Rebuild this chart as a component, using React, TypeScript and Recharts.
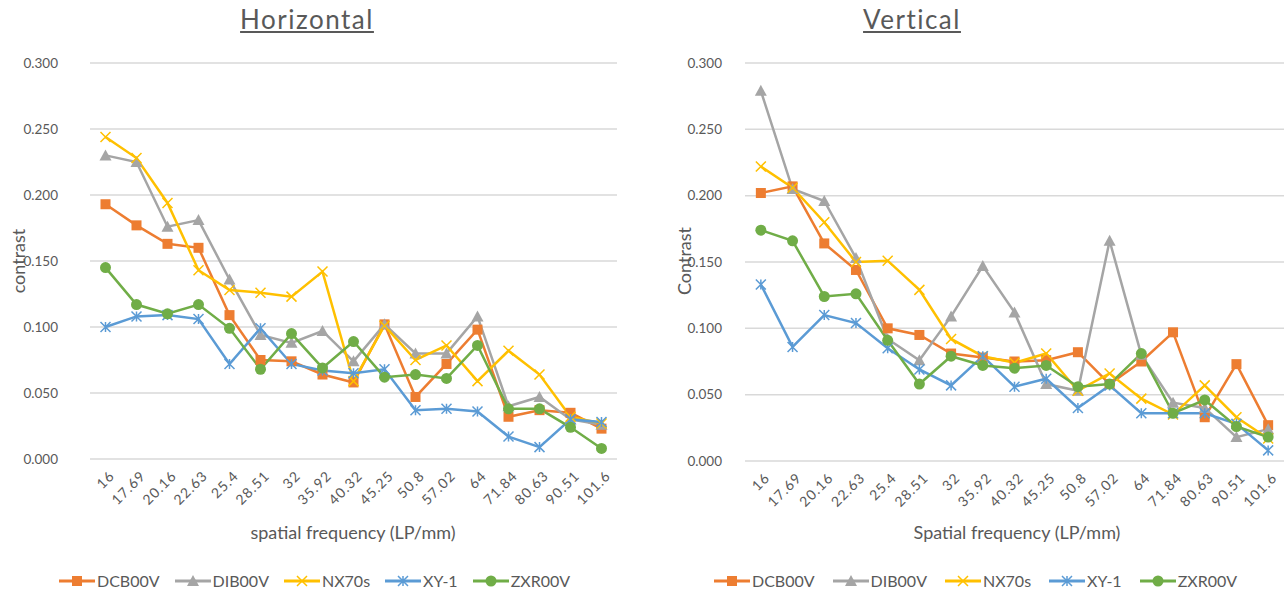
import { LineChart, Line, XAxis, YAxis, CartesianGrid } from 'recharts'

// spatial frequency categories (LP/mm)
const freqs = ['16', '17.69', '20.16', '22.63', '25.4', '28.51', '32', '35.92', '40.32', '45.25', '50.8', '57.02', '64', '71.84', '80.63', '90.51', '101.6']
const yTicks = [0, 0.05, 0.1, 0.15, 0.2, 0.25, 0.3]

// Horizontal
const hDCB00V = [0.193, 0.177, 0.163, 0.160, 0.109, 0.075, 0.074, 0.064, 0.058, 0.102, 0.047, 0.072, 0.098, 0.032, 0.037, 0.035, 0.023]
const hDIB00V = [0.230, 0.225, 0.176, 0.181, 0.136, 0.094, 0.088, 0.097, 0.074, 0.102, 0.080, 0.080, 0.108, 0.040, 0.047, 0.030, 0.026]
const hNX70s = [0.244, 0.228, 0.194, 0.143, 0.128, 0.126, 0.123, 0.142, 0.059, 0.101, 0.075, 0.086, 0.059, 0.082, 0.064, 0.032, 0.027]
const hXY1 = [0.100, 0.108, 0.109, 0.106, 0.072, 0.099, 0.072, 0.067, 0.065, 0.068, 0.037, 0.038, 0.036, 0.017, 0.009, 0.030, 0.028]
const hZXR00V = [0.145, 0.117, 0.110, 0.117, 0.099, 0.068, 0.095, 0.069, 0.089, 0.062, 0.064, 0.061, 0.086, 0.038, 0.038, 0.024, 0.008]

// Vertical
const vDCB00V = [0.202, 0.207, 0.164, 0.144, 0.100, 0.095, 0.081, 0.078, 0.075, 0.076, 0.082, 0.058, 0.075, 0.097, 0.033, 0.073, 0.027]
const vDIB00V = [0.279, 0.205, 0.196, 0.153, 0.092, 0.076, 0.109, 0.147, 0.112, 0.058, 0.053, 0.166, 0.080, 0.044, 0.040, 0.018, 0.024]
const vNX70s = [0.222, 0.206, 0.180, 0.150, 0.151, 0.129, 0.092, 0.079, 0.074, 0.081, 0.053, 0.066, 0.047, 0.035, 0.057, 0.033, 0.017]
const vXY1 = [0.133, 0.086, 0.110, 0.104, 0.085, 0.069, 0.057, 0.079, 0.056, 0.062, 0.040, 0.057, 0.036, 0.036, 0.036, 0.028, 0.008]
const vZXR00V = [0.174, 0.166, 0.124, 0.126, 0.091, 0.058, 0.079, 0.072, 0.070, 0.072, 0.056, 0.058, 0.081, 0.036, 0.046, 0.026, 0.018]

const FONT = 'Lato, "Open Sans", sans-serif'
const TEXT = '#595959'
const GRID = '#D9D9D9'

type Marker = 'square' | 'triangle' | 'x' | 'star' | 'circle'

const SERIES: { key: string; color: string; marker: Marker }[] = [
  { key: 'DCB00V', color: '#ED7D31', marker: 'square' },
  { key: 'DIB00V', color: '#A5A5A5', marker: 'triangle' },
  { key: 'NX70s', color: '#FFC000', marker: 'x' },
  { key: 'XY-1', color: '#5B9BD5', marker: 'star' },
  { key: 'ZXR00V', color: '#70AD47', marker: 'circle' },
]

const buildRows = (s: number[][]) =>
  freqs.map((f, i) => ({
    f,
    'DCB00V': s[0][i],
    'DIB00V': s[1][i],
    'NX70s': s[2][i],
    'XY-1': s[3][i],
    'ZXR00V': s[4][i],
  }))

const hRows = buildRows([hDCB00V, hDIB00V, hNX70s, hXY1, hZXR00V])
const vRows = buildRows([vDCB00V, vDIB00V, vNX70s, vXY1, vZXR00V])

function MarkerShape({ cx, cy, color, marker }: { cx: number; cy: number; color: string; marker: Marker }) {
  const r = 5
  if (marker === 'square') return <rect x={cx - r} y={cy - r} width={2 * r} height={2 * r} fill={color} />
  if (marker === 'circle') return <circle cx={cx} cy={cy} r={r + 0.5} fill={color} />
  if (marker === 'triangle') return <path d={`M${cx},${cy - r - 1} L${cx + r + 1},${cy + r} L${cx - r - 1},${cy + r} Z`} fill={color} />
  if (marker === 'x')
    return <path d={`M${cx - r},${cy - r} L${cx + r},${cy + r} M${cx + r},${cy - r} L${cx - r},${cy + r}`} stroke={color} strokeWidth={1.5} />
  return (
    <path
      d={`M${cx - r},${cy - r} L${cx + r},${cy + r} M${cx + r},${cy - r} L${cx - r},${cy + r} M${cx},${cy - r} L${cx},${cy + r}`}
      stroke={color}
      strokeWidth={1.5}
    />
  )
}

const makeDot = (color: string, marker: Marker) => (p: any) => {
  if (p.cx == null || p.cy == null) return <g key={p.key} />
  return <MarkerShape key={p.key} cx={p.cx} cy={p.cy} color={color} marker={marker} />
}

function XTick({ x, y, payload }: any) {
  const tx = x + 6
  const ty = y + 6
  return (
    <text x={tx} y={ty} transform={`rotate(-45 ${tx} ${ty})`} textAnchor="end" dominantBaseline="central" fill={TEXT} fontSize={14} fontFamily={FONT} letterSpacing={1}>
      {payload.value}
    </text>
  )
}

function ChartLegend({ left, gap }: { left: number; gap: number }) {
  return (
    <div style={{ position: 'absolute', left, top: 571, display: 'flex', gap, fontFamily: FONT, fontSize: 16, color: TEXT, whiteSpace: 'nowrap' }}>
      {SERIES.map(s => (
        <div key={s.key} style={{ display: 'flex', alignItems: 'center' }}>
          <svg width={36} height={16}>
            <line x1={0} y1={8} x2={36} y2={8} stroke={s.color} strokeWidth={3} />
            <MarkerShape cx={18} cy={8} color={s.color} marker={s.marker} />
          </svg>
          <span style={{ marginLeft: 2 }}>{s.key}</span>
        </div>
      ))}
    </div>
  )
}

interface PanelProps {
  rows: any[]
  title: string
  yLabel: string
  xLabel: string
  left: number
  width: number
  plotLeft: number
  plotRight: number
  plotBottom: number
  tickEnd: number
  titleX: number
  yLabelX: number
  xLabelX: number
  legendLeft: number
  legendGap: number
}

function Panel(p: PanelProps) {
  const height = 591
  const xAxisH = 60
  const pad = (p.plotRight - p.plotLeft) / freqs.length / 2
  return (
    <div style={{ position: 'absolute', left: p.left, top: 0, width: p.width, height }}>
      <div style={{ position: 'absolute', left: p.titleX, top: 3, transform: 'translateX(-50%)', fontFamily: FONT, fontSize: 26, color: TEXT, textDecoration: 'underline', letterSpacing: 1.5, whiteSpace: 'nowrap' }}>
        {p.title}
      </div>
      <div style={{ position: 'absolute', left: p.yLabelX, top: 261, transform: 'translate(-50%, -50%) rotate(-90deg)', fontFamily: FONT, fontSize: 18, color: TEXT, whiteSpace: 'nowrap' }}>
        {p.yLabel}
      </div>
      <div style={{ position: 'absolute', left: p.xLabelX, top: 521, transform: 'translateX(-50%)', fontFamily: FONT, fontSize: 18, color: TEXT, whiteSpace: 'nowrap' }}>
        {p.xLabel}
      </div>
      <LineChart width={p.width} height={height} data={p.rows} margin={{ top: 63, right: p.width - p.plotRight, bottom: height - p.plotBottom - xAxisH, left: 0 }}>
        <CartesianGrid vertical={false} stroke={GRID} strokeWidth={1.5} />
        <XAxis dataKey="f" interval={0} tick={<XTick />} tickLine={false} axisLine={false} height={xAxisH} padding={{ left: pad, right: pad }} />
        <YAxis
          width={p.plotLeft}
          domain={[0, 0.3]}
          ticks={yTicks}
          tickFormatter={(v: number) => v.toFixed(3)}
          tick={{ fontSize: 13.5, fill: TEXT, fontFamily: FONT }}
          tickLine={false}
          axisLine={false}
          tickSize={0}
          tickMargin={p.plotLeft - p.tickEnd}
        />
        {SERIES.map(s => (
          <Line
            key={s.key}
            dataKey={s.key}
            stroke={s.color}
            strokeWidth={2.5}
            dot={makeDot(s.color, s.marker)}
            activeDot={false}
            isAnimationActive={false}
          />
        ))}
      </LineChart>
      <ChartLegend left={p.legendLeft} gap={p.legendGap} />
    </div>
  )
}

export default function App() {
  return (
    <div style={{ position: 'absolute', left: 0, top: 0, width: 1284, height: 591, background: '#fff', overflow: 'hidden' }}>
      <Panel
        rows={hRows}
        title="Horizontal"
        yLabel="contrast"
        xLabel="spatial frequency (LP/mm)"
        left={0}
        width={640}
        plotLeft={90}
        plotRight={617}
        plotBottom={459}
        tickEnd={58}
        titleX={307}
        yLabelX={18}
        xLabelX={353}
        legendLeft={59}
        legendGap={15}
      />
      <Panel
        rows={vRows}
        title="Vertical"
        yLabel="Contrast"
        xLabel="Spatial frequency (LP/mm)"
        left={640}
        width={644}
        plotLeft={105}
        plotRight={644}
        plotBottom={461}
        tickEnd={82}
        titleX={272}
        yLabelX={44}
        xLabelX={377}
        legendLeft={74}
        legendGap={18}
      />
    </div>
  )
}
